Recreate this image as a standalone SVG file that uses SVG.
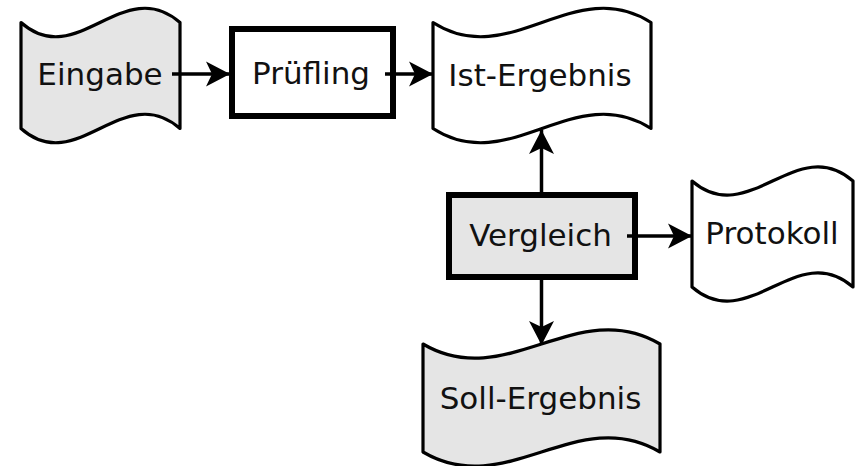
<svg xmlns="http://www.w3.org/2000/svg" width="856" height="466" viewBox="0 0 856 466">
  <style>
    .doc { stroke: #000; stroke-width: 3.2; stroke-linejoin: round; }
    .proc { stroke: #000; stroke-width: 6; }
    .gray { fill: #e5e5e5; }
    .white { fill: #fff; }
    .lbl { font-family: "DejaVu Sans", sans-serif; font-size: 31px; fill: #111; text-anchor: middle; }
    .conn { stroke: #000; stroke-width: 3.5; fill: none; }
  </style>
  <defs>
    <marker id="arr" markerUnits="userSpaceOnUse" markerWidth="30" markerHeight="30" viewBox="-26 -15 30 30" refX="0" refY="0" orient="auto">
      <path d="M0,0 L-24,-12.5 L-18,0 L-24,12.5 Z" fill="#000"/>
    </marker>
  </defs>
  <rect width="856" height="466" fill="#fff"/>

  <g id="eingabe">
    <path class="doc gray" d="M21,22.5 C76.6,72 123.4,-27 180,22.5 L180,128.5 C123.4,79 76.6,178 21,128.5 Z"/>
    <text class="lbl" x="100" y="85">Eingabe</text>
  </g>

  <g id="pruefling">
    <rect class="proc white" x="232" y="29" width="161" height="87"/>
    <text class="lbl" x="311" y="84">Prüfling</text>
  </g>

  <g id="ist">
    <path class="doc white" d="M433,22.5 C509.3,72 574.7,-27 651,22.5 L651,128.5 C574.7,79 509.3,178 433,128.5 Z"/>
    <text class="lbl" x="540" y="86">Ist-Ergebnis</text>
  </g>

  <g id="vergleich">
    <rect class="proc gray" x="449" y="195" width="186" height="82"/>
    <text class="lbl" x="540.5" y="246">Vergleich</text>
  </g>

  <g id="protokoll">
    <path class="doc white" d="M692,181 C748.4,230 796.6,132 853,181 L853,287 C796.6,238 748.4,336 692,287 Z"/>
    <text class="lbl" x="772" y="244">Protokoll</text>
  </g>

  <g id="soll">
    <path class="doc gray" d="M423,344 C506,393 577,295 660,344 L660,452 C577,403 506,501 423,452 Z"/>
    <text class="lbl" x="540.5" y="409">Soll-Ergebnis</text>
  </g>

  <g id="connectors">
    <line class="conn" x1="172" y1="74" x2="230" y2="74" marker-end="url(#arr)"/>
    <line class="conn" x1="385" y1="74" x2="433" y2="74" marker-end="url(#arr)"/>
    <line class="conn" x1="541.5" y1="192" x2="541.5" y2="130" marker-end="url(#arr)"/>
    <line class="conn" x1="627" y1="236" x2="692" y2="236" marker-end="url(#arr)"/>
    <line class="conn" x1="541.5" y1="280" x2="541.5" y2="345" marker-end="url(#arr)"/>
  </g>
</svg>
